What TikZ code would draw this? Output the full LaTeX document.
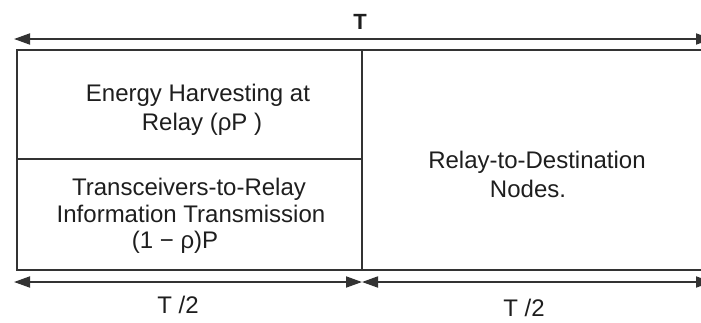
\documentclass[tikz,border=0pt]{standalone}
\usepackage{fontspec}
\setmainfont{Liberation Sans}
\usetikzlibrary{arrows.meta}
\definecolor{ink}{HTML}{1E1E1E}
\definecolor{rule}{HTML}{333333}
\tikzset{
  lbl/.style={anchor=base, inner sep=0pt, text=ink, font=\fontsize{24}{28}\selectfont},
  frame/.style={draw=rule, line width=1.8pt},
  span/.style={draw=rule, line width=1.8pt, {Triangle[length=16pt,width=11pt]}-{Triangle[length=16pt,width=11pt]}, shorten <=0pt, shorten >=0pt}
}
\begin{document}
\begin{tikzpicture}[x=1pt, y=-1pt]
  \useasboundingbox (0,0) rectangle (701,322);
  % frame corners and dividers
  \coordinate (tl) at (17,50);
  \coordinate (tr) at (712,50);
  \coordinate (bl) at (17,270);
  \coordinate (br) at (712,270);
  \coordinate (mt) at (362,50);
  \coordinate (mb) at (362,270);
  \coordinate (hl) at (17,159);
  \coordinate (hr) at (362,159);
  \draw[frame] (tr) -- (tl) -- (bl) -- (br);
  \draw[frame] (mt) -- (mb);
  \draw[frame] (hl) -- (hr);
  % total period
  \coordinate (topL) at (14,39);
  \coordinate (topR) at (712,39);
  \draw[span] (topL) -- (topR);
  \node[lbl, font=\fontsize{22}{26}\selectfont\bfseries] (T) at (360,29) {T};
  % half periods
  \coordinate (botL) at (14,282);
  \coordinate (botM) at (362,282);
  \coordinate (botR) at (712,282);
  \draw[span] (botL) -- (botM);
  \draw[span] (botM) -- (botR);
  \node[lbl] (half1) at (178,313) {T /2};
  \node[lbl] (half2) at (524,316) {T /2};
  % block labels
  \node[lbl] (eh1) at (198,101) {Energy Harvesting at};
  \node[lbl] (eh2) at (202,130) {Relay (ρP )};
  \node[lbl] (it1) at (189,195) {Transceivers-to-Relay};
  \node[lbl] (it2) at (191,222) {Information Transmission};
  \node[lbl] (it3) at (175,248) {(1 − ρ)P};
  \node[lbl] (rd1) at (537,168) {Relay-to-Destination};
  \node[lbl] (rd2) at (528,197) {Nodes.};
\end{tikzpicture}
\end{document}
